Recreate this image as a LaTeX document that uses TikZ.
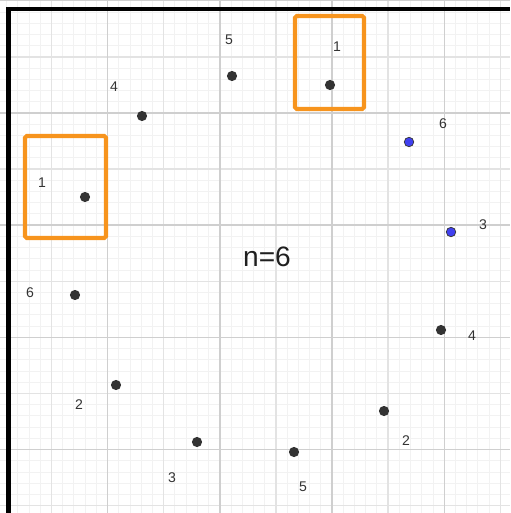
\documentclass[tikz,border=0pt]{standalone}
\usepackage{fontspec}
\setmainfont{Liberation Sans}
\usetikzlibrary{positioning}
\definecolor{gridMinor}{HTML}{F2F2F2}
\definecolor{gridMid}{HTML}{E3E3E3}
\definecolor{gridMajor}{HTML}{CFCFCF}
\definecolor{ptDark}{HTML}{333333}
\definecolor{ptBlue}{HTML}{4040F0}
\definecolor{boxOrange}{HTML}{F7941D}

\begin{document}
\begin{tikzpicture}[
    x=0.02cm, y=-0.02cm,
    dot/.style={circle, fill=ptDark, minimum size=5.8pt, inner sep=0pt},
    bluedot/.style={dot, fill=ptBlue, draw=ptDark, line width=0.4pt, minimum size=5.4pt},
    lbl/.style={font=\fontsize{8}{9}\selectfont, text=ptDark, inner sep=0pt},
    pick/.style={draw=boxOrange, line width=2.3pt, rounded corners=1pt}
]
\useasboundingbox (0,0) rectangle (510,513);

% grid
\begin{scope}
\clip (0,0) rectangle (510,513);
\foreach \i in {-30,...,16}
    \draw[gridMinor, line width=0.55pt] ({332+\i*11.22},0) -- ++(0,513);
\foreach \j in {-10,...,36}
    \draw[gridMinor, line width=0.55pt] (0,{113+\j*11.22}) -- ++(510,0);
\foreach \i in {-6,...,3}
    \draw[gridMid, line width=0.8pt] ({332+\i*56.1},0) -- ++(0,513);
\foreach \j in {-2,...,7}
    \draw[gridMid, line width=0.8pt] (0,{113+\j*56.1}) -- ++(510,0);
\foreach \i in {-3,...,1}
    \draw[gridMajor, line width=0.8pt] ({332+\i*112.2},0) -- ++(0,513);
\foreach \j in {-1,...,3}
    \draw[gridMajor, line width=0.8pt] (0,{113+\j*112.2}) -- ++(510,0);
\end{scope}

% frame
\draw[black, line width=2.6pt] (8.5,513) -- (8.5,9) -- (510,9);

% boxes
\draw[pick] (25,136) rectangle (106,238);
\draw[pick] (295,16) rectangle (364,109);

% first arrangement
\node[dot] (a1) at (85,197) {};
\node[dot] (a2) at (116,385) {};
\node[dot] (a3) at (197,442) {};
\node[dot] (a4) at (142,116) {};
\node[dot] (a5) at (232,76) {};
\node[dot] (a6) at (75,295) {};
\node[lbl] (la1) at (42,183) {1};
\node[lbl] (la2) at (79,405) {2};
\node[lbl] (la3) at (172,478) {3};
\node[lbl] (la4) at (114,87) {4};
\node[lbl] (la5) at (229,40) {5};
\node[lbl] (la6) at (30,293) {6};

% second arrangement
\node[dot] (b1) at (330,85) {};
\node[dot] (b2) at (384,411) {};
\node[bluedot] (b3) at (451,232) {};
\node[dot] (b4) at (441,330) {};
\node[dot] (b5) at (294,452) {};
\node[bluedot] (b6) at (409,142) {};
\node[lbl] (lb1) at (337,47) {1};
\node[lbl] (lb2) at (406,441) {2};
\node[lbl] (lb3) at (483,225) {3};
\node[lbl] (lb4) at (472,336) {4};
\node[lbl] (lb5) at (303,487) {5};
\node[lbl] (lb6) at (443,124) {6};

\node[font=\fontsize{16}{18}\selectfont, text=black!88, inner sep=0pt] (title) at (267,257) {n=6};
\end{tikzpicture}
\end{document}
